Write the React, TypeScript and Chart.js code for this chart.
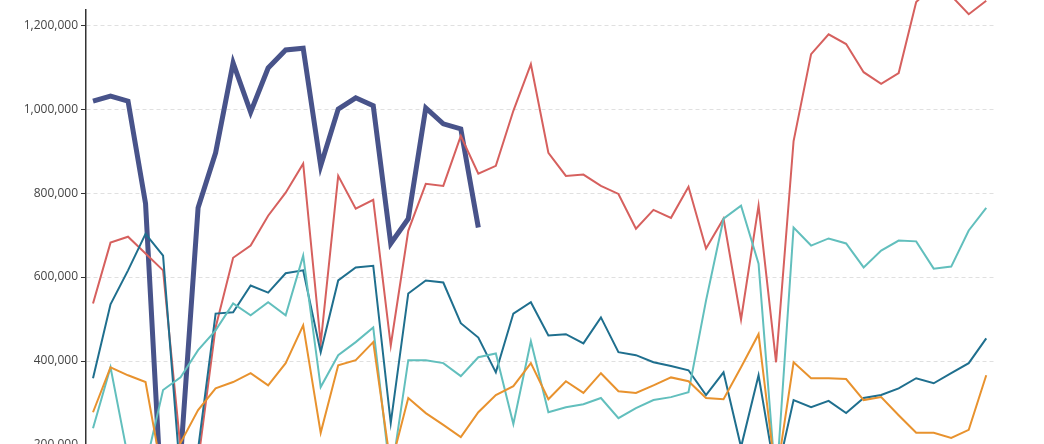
import React, { useEffect, useRef } from "react";
import { Chart, registerables } from "chart.js";
Chart.register(...registerables);

const tickValues = [200000, 400000, 600000, 800000, 1000000, 1200000];

const navy = [1019000,1031000,1019000,775000,0,170000,765000,896000,1110000,993000,1098000,1141000,1145000,865000,1000000,1027000,1008000,680000,739000,1003000,965000,953000,718000];

const red = [537000,682000,696000,656000,616000,190000,160000,480000,646000,675000,746000,801000,870000,442000,841000,763000,784000,437000,710000,822000,817000,936000,846000,865000,996000,1107000,896000,841000,844000,817000,798000,715000,760000,741000,815000,668000,739000,499000,770000,397000,924000,1131000,1178000,1155000,1088000,1060000,1086000,1255000,1295000,1270000,1226000,1258000];

const teal = [359000,535000,616000,703000,651000,120000,190000,513000,516000,580000,563000,609000,616000,421000,592000,623000,627000,252000,561000,592000,587000,490000,456000,373000,513000,540000,461000,464000,442000,504000,421000,414000,397000,388000,378000,319000,373000,195000,366000,120000,307000,290000,305000,276000,312000,319000,335000,359000,347000,371000,395000,454000];

const lightTeal = [240000,385000,170000,150000,331000,361000,426000,473000,537000,509000,540000,509000,651000,338000,414000,445000,480000,120000,402000,402000,395000,364000,409000,418000,250000,447000,278000,290000,297000,312000,264000,288000,307000,314000,326000,544000,739000,770000,632000,100000,718000,675000,692000,680000,623000,663000,687000,685000,620000,625000,711000,765000];

const orange = [278000,385000,366000,350000,120000,205000,283000,335000,350000,371000,342000,395000,485000,229000,390000,402000,445000,150000,312000,276000,248000,219000,278000,319000,340000,395000,309000,352000,324000,371000,328000,324000,342000,361000,352000,312000,309000,385000,464000,120000,397000,359000,359000,357000,307000,314000,271000,229000,229000,217000,236000,366000];

const toXY = (arr: number[]) => arr.map((v, i) => ({ x: i, y: v }));

export default function App() {
  const ref = useRef<HTMLCanvasElement>(null);
  useEffect(() => {
    const mk = (label: string, data: number[], color: string, w: number) => ({
      label, data: toXY(data), borderColor: color, backgroundColor: color,
      borderWidth: w, pointRadius: 0, tension: 0, clip: false as any,
    });
    const chart = new Chart(ref.current!, {
      type: "line",
      data: {
        datasets: [
          mk("orange", orange, "#e8922e", 2),
          mk("lightTeal", lightTeal, "#62bfbd", 2),
          mk("teal", teal, "#1f6f8e", 2),
          mk("red", red, "#d6605e", 2),
          mk("navy", navy, "#48538a", 5),
        ],
      },
      options: {
        animation: false,
        responsive: false,
        maintainAspectRatio: false,
        layout: { padding: { top: 0, bottom: 75, right: 49, left: 0 } },
        plugins: { legend: { display: false }, tooltip: { enabled: false } },
        scales: {
          x: { type: "linear", min: -0.4, max: 51.5, display: false },
          y: {
            min: 200000, max: 1235600,
            afterBuildTicks: (s: any) => { s.ticks = tickValues.map((v) => ({ value: v })); },
            afterFit: (s: any) => { s.width = 86; },
            border: { display: true, color: "#333", width: 1.5, dash: [4, 3] },
            grid: { color: "#e0e0e0", tickColor: "#333", tickLength: 5, drawTicks: true },
            ticks: {
              color: "#444", padding: 3,
              font: { family: "'Open Sans', sans-serif", size: 12 },
              callback: (v: any) => Number(v).toLocaleString("en-US"),
            },
          },
        },
      },
    } as any);
    return () => chart.destroy();
  }, []);
  return (
    <div style={{ position: "absolute", left: 0, top: 0 }}>
      <canvas ref={ref} width={1044} height={520} style={{ width: 1044, height: 520 }} />
    </div>
  );
}
